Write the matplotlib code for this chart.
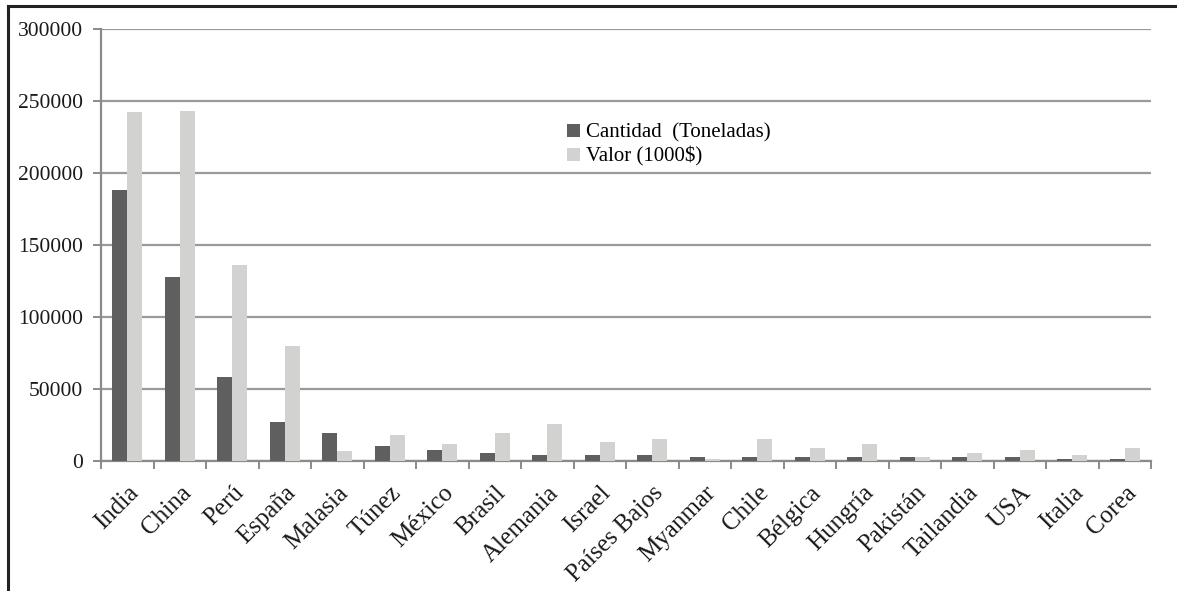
import numpy as np
import matplotlib.pyplot as plt
import matplotlib.transforms as mtransforms
from matplotlib.lines import Line2D

COUNTRIES = ["India", "China", "Perú", "España", "Malasia", "Túnez", "México",
             "Brasil", "Alemania", "Israel", "Países Bajos", "Myanmar", "Chile",
             "Bélgica", "Hungría", "Pakistán", "Tailandia", "USA", "Italia", "Corea"]
CANTIDAD = [188000, 127600, 58500, 26900, 19400, 10600, 7800, 5300, 4200, 4200,
            4200, 3000, 3000, 2800, 2800, 2800, 2800, 2800, 1400, 1400]
VALOR = [242600, 243000, 136000, 80000, 6700, 18000, 11800, 19400, 25700, 13000,
         15500, 1400, 15500, 9200, 11800, 2500, 5300, 7800, 4200, 9200]
LABELS = ["Cantidad  (Toneladas)", "Valor (1000$)"]

plt.rcParams["font.family"] = ["Liberation Serif", "DejaVu Serif"]

fig = plt.figure(figsize=(11.77, 5.91), dpi=100)
ax = fig.add_axes([101 / 1177, 1 - 461 / 591, 1050 / 1177, 432 / 591])

x = np.arange(len(COUNTRIES))
w = 0.285
ax.bar(x - w / 2, CANTIDAD, w, color="#5f5f5f", label=LABELS[0], zorder=3)
ax.bar(x + w / 2, VALOR, w, color="#d2d2d0", label=LABELS[1], zorder=3)

ax.set_xlim(-0.5, len(COUNTRIES) - 0.5)
ax.set_ylim(0, 300000)
ax.set_yticks(np.arange(0, 300001, 50000))
ax.yaxis.grid(True, color="#9a9a9a", linewidth=1.6, zorder=0)

ax.set_xticks(x)
ax.set_xticklabels(COUNTRIES, rotation=45, ha="right", rotation_mode="anchor",
                   fontsize=18, color="#1a1a1a")
shift = mtransforms.ScaledTranslation(2 / 100, 0, fig.dpi_scale_trans)
for lab in ax.get_xticklabels():
    lab.set_transform(lab.get_transform() + shift)
ax.set_xticks(np.arange(-0.5, len(COUNTRIES), 1), minor=True)
ax.tick_params(axis="x", which="major", length=0, pad=15)
ax.tick_params(axis="x", which="minor", length=6, width=1.4, color="#8a8a8a")
ax.tick_params(axis="y", length=6, width=1.4, color="#8a8a8a", labelsize=15.5,
               labelcolor="#1a1a1a", pad=7)

for s in ["top", "right"]:
    ax.spines[s].set_visible(False)
for s in ["left", "bottom"]:
    ax.spines[s].set_color("#8a8a8a")
    ax.spines[s].set_linewidth(1.6)

ax.legend(loc="upper left", bbox_to_anchor=(0.426, 0.825), frameon=False,
          fontsize=15, handlelength=0.6, handleheight=0.6, handletextpad=0.3,
          labelspacing=0.2)

# page border (left and top)
fig.add_artist(Line2D([8 / 1177, 8 / 1177], [0, 1 - 6 / 591], color="#222222",
                      linewidth=2.2, transform=fig.transFigure))
fig.add_artist(Line2D([8 / 1177, 1], [1 - 6 / 591, 1 - 6 / 591], color="#222222",
                      linewidth=2.2, transform=fig.transFigure))

fig.savefig("out.png", dpi=100)
